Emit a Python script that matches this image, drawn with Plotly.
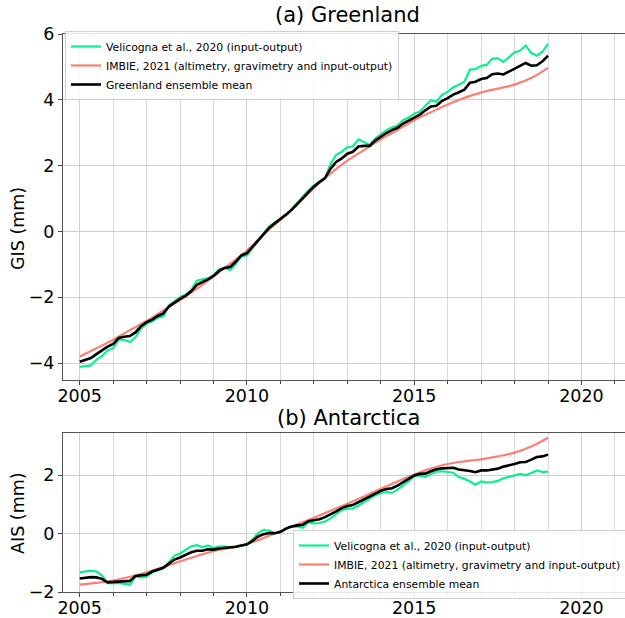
import numpy as np
import plotly.graph_objects as go

# ---------------- data ----------------
# 2-month time grid for the detailed series, half-year grid for the IMBIE series
t_fine = [2005 + k / 6 for k in range(85)]
t_half = [2005 + k / 2 for k in range(29)]

gis_velicogna = [
    -4.12, -4.10, -4.07, -3.90, -3.78, -3.62,
    -3.55, -3.28, -3.30, -3.36, -3.22, -2.95,
    -2.80, -2.74, -2.62, -2.58, -2.25, -2.12,
    -2.00, -1.92, -1.78, -1.50, -1.46, -1.42,
    -1.33, -1.15, -1.10, -1.18, -0.99, -0.75,
    -0.73, -0.50, -0.30, -0.05, 0.15, 0.28,
    0.38, 0.50, 0.66, 0.85, 1.05, 1.25,
    1.40, 1.52, 1.62, 2.05, 2.33, 2.42,
    2.56, 2.58, 2.80, 2.72, 2.62, 2.82,
    2.95, 3.08, 3.16, 3.22, 3.38, 3.46,
    3.58, 3.64, 3.82, 3.98, 3.94, 4.15,
    4.24, 4.38, 4.46, 4.55, 4.92, 4.93,
    5.03, 5.06, 5.25, 5.26, 5.15, 5.30,
    5.44, 5.50, 5.65, 5.42, 5.34, 5.46,
    5.70,
]
gis_imbie = [
    -3.80, -3.55, -3.29, -3.00, -2.72, -2.40, -2.09, -1.74, -1.37, -0.98,
    -0.58, -0.08, 0.35, 0.82, 1.32, 1.76, 2.15, 2.47, 2.80, 3.08,
    3.38, 3.62, 3.86, 4.06, 4.22, 4.34, 4.46, 4.66, 4.97,
]
gis_mean = [
    -3.96, -3.91, -3.85, -3.73, -3.62, -3.50,
    -3.42, -3.24, -3.20, -3.18, -3.07, -2.88,
    -2.76, -2.68, -2.57, -2.49, -2.28, -2.16,
    -2.05, -1.95, -1.82, -1.62, -1.54, -1.46,
    -1.35, -1.20, -1.11, -1.08, -0.92, -0.73,
    -0.66, -0.46, -0.28, -0.07, 0.11, 0.25,
    0.37, 0.51, 0.66, 0.84, 1.02, 1.20,
    1.36, 1.50, 1.62, 1.91, 2.11, 2.22,
    2.36, 2.42, 2.58, 2.60, 2.60, 2.76,
    2.88, 2.99, 3.08, 3.15, 3.28, 3.37,
    3.48, 3.55, 3.68, 3.80, 3.82, 3.97,
    4.05, 4.16, 4.23, 4.31, 4.52, 4.55,
    4.63, 4.66, 4.78, 4.80, 4.77, 4.86,
    4.95, 5.02, 5.12, 5.04, 5.05, 5.17,
    5.34,
]

ais_velicogna = [
    -1.33, -1.30, -1.27, -1.30, -1.44, -1.70,
    -1.70, -1.69, -1.72, -1.75, -1.47, -1.50,
    -1.48, -1.32, -1.26, -1.18, -0.98, -0.76,
    -0.68, -0.57, -0.44, -0.40, -0.46, -0.41,
    -0.49, -0.45, -0.44, -0.49, -0.45, -0.42,
    -0.38, -0.20, 0.02, 0.12, 0.10, 0.02,
    0.03, 0.18, 0.24, 0.24, 0.20, 0.38,
    0.35, 0.36, 0.41, 0.52, 0.66, 0.80,
    0.85, 0.85, 0.96, 1.08, 1.20, 1.31,
    1.38, 1.42, 1.39, 1.50, 1.65, 1.78,
    1.96, 1.99, 1.94, 2.04, 2.12, 2.13,
    2.10, 2.08, 1.93, 1.87, 1.78, 1.67,
    1.78, 1.74, 1.76, 1.80, 1.89, 1.93,
    1.99, 2.04, 1.99, 2.07, 2.16, 2.10,
    2.12,
]
ais_imbie = [
    -1.75, -1.69, -1.61, -1.48, -1.33, -1.15, -0.95, -0.77, -0.60, -0.49,
    -0.36, -0.15, 0.08, 0.31, 0.54, 0.78, 1.02, 1.27, 1.53, 1.78,
    2.02, 2.22, 2.38, 2.47, 2.54, 2.64, 2.77, 2.98, 3.28,
]
ais_mean = [
    -1.54, -1.52, -1.49, -1.50, -1.55, -1.67,
    -1.66, -1.63, -1.62, -1.62, -1.45, -1.44,
    -1.41, -1.30, -1.24, -1.17, -1.03, -0.89,
    -0.82, -0.73, -0.64, -0.59, -0.59, -0.54,
    -0.55, -0.51, -0.49, -0.49, -0.45, -0.41,
    -0.37, -0.25, -0.10, -0.02, 0.02, 0.01,
    0.06, 0.17, 0.24, 0.28, 0.30, 0.42,
    0.45, 0.49, 0.56, 0.65, 0.76, 0.87,
    0.94, 0.98, 1.08, 1.18, 1.28, 1.38,
    1.46, 1.52, 1.55, 1.64, 1.76, 1.86,
    1.99, 2.04, 2.05, 2.13, 2.20, 2.23,
    2.24, 2.25, 2.19, 2.17, 2.14, 2.10,
    2.16, 2.16, 2.19, 2.22, 2.29, 2.33,
    2.38, 2.44, 2.45, 2.53, 2.62, 2.64,
    2.70,
]

name_vel = "Velicogna et al., 2020 (input-output)"
name_imbie = "IMBIE, 2021 (altimetry, gravimetry and input-output)"
name_gis_mean = "Greenland ensemble mean"
name_ais_mean = "Antarctica ensemble mean"
panel_titles = ["(a) Greenland", "(b) Antarctica"]
ylabels = ["GIS (mm)", "AIS (mm)"]
x_ticks = [2005, 2010, 2015, 2020]

# ---------------- styling ----------------
GREEN = "#0af08e"
SALMON = "#fa8072"
FONT = "DejaVu Sans"
W, H = 625, 618
# reference pixel geometry
PLOT_L, PLOT_R = 63, 625
TOP_T, TOP_B = 34, 379.5
BOT_T, BOT_B = 432.7, 592
L = PLOT_L
R = W - PLOT_R
T = TOP_T
B = H - BOT_B
PH = H - T - B

def py(p):  # pixel y -> paper y
    return (H - B - p) / PH

def px_(p):  # pixel x -> paper x
    return (p - L) / (W - L - R)

fig = go.Figure()

fig.add_trace(go.Scatter(x=t_fine, y=gis_velicogna, name=name_vel, mode="lines",
                         line=dict(color=GREEN, width=2.2), xaxis="x", yaxis="y", legend="legend"))
fig.add_trace(go.Scatter(x=t_half, y=gis_imbie, name=name_imbie, mode="lines",
                         line=dict(color=SALMON, width=2.2, shape="spline"), xaxis="x", yaxis="y", legend="legend"))
fig.add_trace(go.Scatter(x=t_fine, y=gis_mean, name=name_gis_mean, mode="lines",
                         line=dict(color="black", width=2.6), xaxis="x", yaxis="y", legend="legend"))

fig.add_trace(go.Scatter(x=t_fine, y=ais_velicogna, name=name_vel, mode="lines",
                         line=dict(color=GREEN, width=2.2), xaxis="x2", yaxis="y2", legend="legend2"))
fig.add_trace(go.Scatter(x=t_half, y=ais_imbie, name=name_imbie, mode="lines",
                         line=dict(color=SALMON, width=2.2, shape="spline"), xaxis="x2", yaxis="y2", legend="legend2"))
fig.add_trace(go.Scatter(x=t_fine, y=ais_mean, name=name_ais_mean, mode="lines",
                         line=dict(color="black", width=2.6), xaxis="x2", yaxis="y2", legend="legend2"))

xrange = [2004.5, 2004.5 + (PLOT_R - PLOT_L) / 33.45]
common_x = dict(
    range=xrange, tickmode="array", tickvals=x_ticks, ticks="outside", ticklen=4,
    tickcolor="#444", showline=True, linecolor="#555", linewidth=1, mirror=True,
    showgrid=True, gridcolor="#cfcfcf", gridwidth=1, zeroline=False,
    tickfont=dict(size=17.5, color="black", family=FONT), ticklabelstandoff=-4,
    minor=dict(dtick=1, tick0=2005, showgrid=True, gridcolor="#d9d9d9", ticks="outside",
               ticklen=3, tickcolor="#444"),
)
common_y = dict(
    ticks="outside", ticklen=4, tickcolor="#444", showline=True, linecolor="#555",
    linewidth=1, mirror=True, showgrid=True, gridcolor="#cfcfcf", zeroline=False,
    tickfont=dict(size=17.5, color="black", family=FONT), dtick=2,
)

top_dom = [py(TOP_B), 1.0]
bot_dom = [0.0, py(BOT_T)]

legend_style = dict(
    xanchor="left", yanchor="top",
    bgcolor="rgba(255,255,255,0.85)", bordercolor="#d0d0d0", borderwidth=1,
    font=dict(size=10.8, family=FONT, color="black"), tracegroupgap=0, itemwidth=30,
)

fig.update_layout(
    width=W, height=H,
    margin=dict(l=L, r=R, t=T, b=B, pad=0, autoexpand=False),
    paper_bgcolor="white", plot_bgcolor="white",
    font=dict(family=FONT, color="black"),
    xaxis=dict(**common_x, anchor="y", domain=[0, 1]),
    yaxis=dict(**common_y, anchor="x", domain=top_dom, range=[-4.5, 6.0]),
    xaxis2=dict(**common_x, anchor="y2", domain=[0, 1]),
    yaxis2=dict(**common_y, anchor="x2", domain=bot_dom, range=[-2.0, 3.45]),
    legend=dict(x=px_(65), y=py(31), **legend_style),
    legend2=dict(x=px_(293), y=py(530), **legend_style),
    showlegend=True,
    hovermode=False,
)

annotations = [
    dict(text=panel_titles[0], x=px_(347), y=py(15), xref="paper", yref="paper",
         showarrow=False, font=dict(size=21, family=FONT, color="black"),
         xanchor="center", yanchor="middle"),
    dict(text=panel_titles[1], x=px_(348), y=py(418), xref="paper", yref="paper",
         showarrow=False, font=dict(size=21, family=FONT, color="black"),
         xanchor="center", yanchor="middle"),
    dict(text=ylabels[0], x=px_(18), y=py(229), xref="paper", yref="paper",
         showarrow=False, textangle=-90, font=dict(size=17.5, family=FONT, color="black"),
         xanchor="center", yanchor="middle"),
    dict(text=ylabels[1], x=px_(18), y=py(513), xref="paper", yref="paper",
         showarrow=False, textangle=-90, font=dict(size=17.5, family=FONT, color="black"),
         xanchor="center", yanchor="middle"),
]
fig.update_layout(annotations=annotations)

fig.write_html("out.html",
               config={"displayModeBar": False},
               post_script="document.body.style.margin='0px'; document.body.style.overflow='hidden';")
